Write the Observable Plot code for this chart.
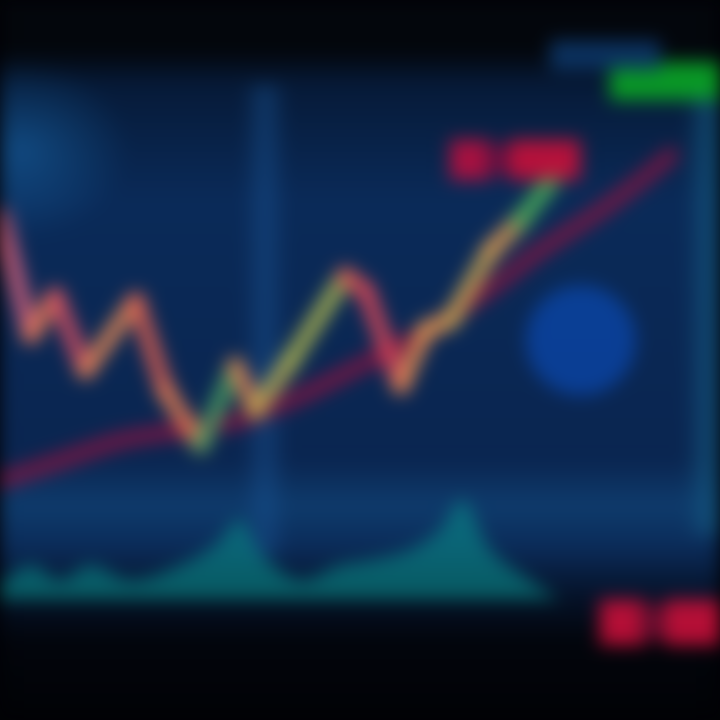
<!DOCTYPE html>
<html>
<head>
<meta charset="utf-8">
<script src="https://cdn.jsdelivr.net/npm/d3@7"></script>
<script src="https://cdn.jsdelivr.net/npm/@observablehq/plot@0.6"></script>
<style>
  html, body { margin: 0; padding: 0; background: #010205; overflow: hidden; }
  #wrap {
    width: 720px; height: 720px; filter: blur(9px);
    background-image:
      radial-gradient(ellipse 110px 90px at 20px 150px, rgba(25,110,180,0.5), rgba(0,0,0,0) 100%),
      linear-gradient(to right, rgba(0,0,0,0) 0px, rgba(25,85,150,0.5) 22px, rgba(0,0,0,0) 44px),
      linear-gradient(to right, rgba(0,0,0,0) 0px, rgba(20,90,130,0.6) 20px, rgba(20,90,130,0.6) 40px),
      linear-gradient(to bottom, #03060c 0px, #03060b 50px, #061a38 85px, #0a2a58 200px, #0a2550 460px, #0e3b6c 505px, #0b2c5a 545px, #051229 595px, #02050c 640px, #010205 720px);
    background-size: 720px 720px, 44px 470px, 40px 450px, 720px 720px;
    background-position: 0 0, 243px 85px, 685px 85px, 0 0;
    background-repeat: no-repeat;
  }
  #wrap svg { display: block; }
</style>
</head>
<body>
<div id="wrap"></div>
<script>
// time index 0..100 across, price 0..100 up
const priceT = [0, 4.2, 7.6, 11.8, 18.8, 22.9, 27.8, 32.6, 35.4, 40.3, 47.9, 50.7, 55.6, 59.0, 62.5, 68.1, 72.2, 77.1];
const priceV = [70.1, 53.5, 59.0, 48.6, 58.3, 45.8, 38.2, 49.3, 43.1, 50.0, 61.8, 59.7, 46.5, 54.2, 55.6, 65.3, 69.4, 75.7];
const segColors = ["#d8607a", "#e87a55", "#d85062", "#e88a55", "#e06050", "#f08050", "#4fa060", "#e08050", "#c0b050", "#b0b850", "#e05050", "#e04858", "#e89050", "#e89a50", "#d0a850", "#e8a050", "#50b858"];

const maT = [0, 8.3, 16.7, 25, 33.3, 41.7, 50, 58.3, 66.7, 75, 83.3, 88.9, 93.1];
const maV = [33.3, 36.1, 38.9, 40.3, 41.7, 45.1, 49.3, 53.5, 59.0, 65.3, 70.8, 75.0, 78.5];

const volT = [0, 4.2, 8.3, 12.5, 18.1, 25, 29.9, 33.3, 36.4, 41.7, 47.2, 51.4, 56.9, 61.1, 64.2, 68.1, 73.6, 77.8];
const volV = [18.8, 21.5, 19.4, 21.5, 19.4, 21.5, 24.3, 27.8, 22.9, 19.4, 21.5, 22.2, 23.6, 26.4, 30.6, 23.6, 19.4, 16.7];
const volBase = 16.7;

const labelNames = ["last", "high", "highMid", "high2", "ask", "askMid", "ask2", "bid"];
const labelT1 = [84.7, 62.5, 67.4, 70.8, 83.3, 88.9, 92.4, 76.4];
const labelT2 = [100, 68.1, 71.5, 80.6, 89.6, 93.1, 100, 91.7];
const labelV1 = [86.1, 75.0, 75.7, 75.0, 10.4, 11.1, 10.4, 90.3];
const labelV2 = [91.4, 80.6, 79.9, 80.6, 16.7, 16.0, 16.7, 94.4];
const labelColors = ["#0aa525", "#b8103f", "#6a1040", "#c8103a", "#c8103a", "#6a0e30", "#c8103a", "#0c3566"];

const glowT = [80.6];
const glowV = [52.8];

const segs = priceT.slice(0, -1).map((t, i) => ({
  t1: t, v1: priceV[i], t2: priceT[i + 1], v2: priceV[i + 1], c: segColors[i]
}));
const ma = maT.map((t, i) => ({t, v: maV[i]}));
const vol = volT.map((t, i) => ({t, v: volV[i]}));
const labels = labelNames.map((n, i) => ({n, t1: labelT1[i], t2: labelT2[i], v1: labelV1[i], v2: labelV2[i], c: labelColors[i]}));
const glow = glowT.map((t, i) => ({t, v: glowV[i]}));

const chart = Plot.plot({
  width: 720,
  height: 720,
  margin: 0,
  x: {domain: [0, 100], axis: null},
  y: {domain: [0, 100], axis: null},
  style: {background: "transparent"},
  marks: [
    Plot.areaY(vol, {x: "t", y1: volBase, y2: "v", fill: "#0a8a88", fillOpacity: 0.6, curve: "catmull-rom"}),
    Plot.dot(glow, {x: "t", y: "v", r: 55, fill: "#0a48b0", fillOpacity: 0.7}),
    Plot.line(ma, {x: "t", y: "v", stroke: "#7a1642", strokeWidth: 16, curve: "catmull-rom", strokeLinecap: "round", strokeOpacity: 0.9}),
    Plot.link(segs, {x1: "t1", y1: "v1", x2: "t2", y2: "v2", stroke: "c", strokeWidth: 17, strokeLinecap: "round", strokeOpacity: 0.85}),
    Plot.rect(labels, {x1: "t1", x2: "t2", y1: "v1", y2: "v2", fill: "c", fillOpacity: 0.9})
  ]
});
document.getElementById("wrap").appendChild(chart);
</script>
</body>
</html>
